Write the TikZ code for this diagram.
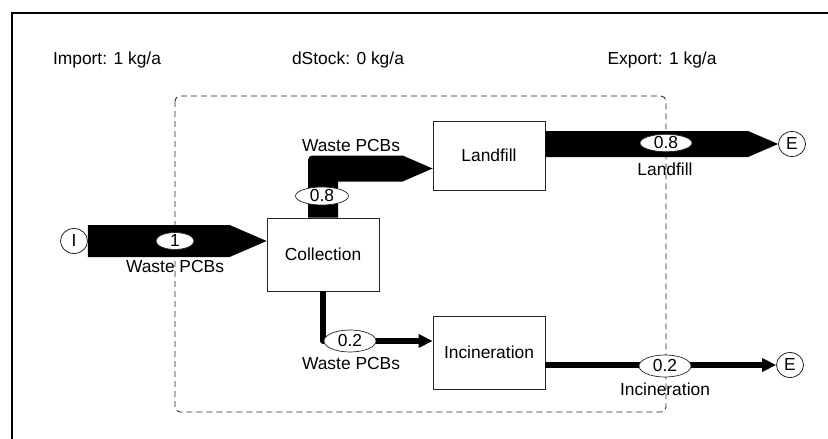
\documentclass[tikz,border=0pt]{standalone}
\usepackage{fontspec}
\setmainfont{Liberation Sans}
\usetikzlibrary{calc,shapes.geometric,arrows.meta}
\begin{document}
\begin{tikzpicture}[x={(1pt,0)},y={(0,-1pt)},
  every node/.style={font=\fontsize{17.4}{20}\selectfont},
  procbox/.style={draw=black!85,line width=0.8pt,fill=white,minimum width=112pt,inner sep=0pt},
  endpt/.style={ellipse,draw=black!85,line width=0.8pt,fill=white,minimum width=27pt,minimum height=25pt,inner sep=0pt},
  flowval/.style={ellipse,draw=black!85,line width=0.7pt,fill=white,minimum width=52pt,minimum height=20pt,inner sep=0pt},
  flowthin/.style={line width=5.5pt,line join=round,-{Triangle[length=14pt,width=13pt]}},
  sysbox/.style={draw=black!85,line width=0.9pt,dash pattern=on 6pt off 4pt,rounded corners=5pt}]
\useasboundingbox (0,0) rectangle (828,439);
% outer frame (left and top edges)
\draw[line width=2pt] (11.5,439) -- (11.5,12.5) -- (828,12.5);
% system boundary
\draw[sysbox] (175,96) rectangle (666,412);
% balance figures
\node (imp) at (107,60) {Import: 1 kg/a};
\node (dst) at (348,60) {dStock: 0 kg/a};
\node (exp) at (662,60) {Export: 1 kg/a};
% processes and end points
\node[procbox,minimum height=73pt] (coll) at (323,254.5) {Collection};
\node[procbox,minimum height=69pt] (landfill) at (489,155.5) {Landfill};
\node[procbox,minimum height=73pt] (inc) at (489,352.5) {Incineration};
\node[endpt] (I) at (74,241) {I};
\node[endpt] (E1) at (792,144) {E};
\node[endpt] (E2) at (790,365) {E};
% import flow
\fill ($(I.east)+(0,-16)$) -- ($(coll.west |- I.east)+(-37,-16)$) -- (coll.west |- I.east)
  -- ($(coll.west |- I.east)+(-37,16)$) -- ($(I.east)+(0,16)$) -- cycle;
% collection -> landfill
\coordinate (lfin) at ($(landfill.west)+(0,13)$);
\fill ($(coll.north)+(-15,0)$) -- ($(coll.north |- lfin)+(-15,-3)$)
  .. controls ($(coll.north |- lfin)+(-15,-13)$) .. ($(coll.north |- lfin)+(-5,-13)$)
  -- ($(lfin)+(-30,-13)$) -- (lfin) -- ($(lfin)+(-30,13)$)
  -- ($(coll.north |- lfin)+(15,13)$) -- ($(coll.north)+(15,0)$) -- cycle;
% landfill -> export
\coordinate (lfout) at ($(landfill.east)+(0,-11.5)$);
\fill ($(lfout)+(0,-13)$) -- ($(E1.west)+(-30,-13)$) -- (E1.west) -- ($(E1.west)+(-30,13)$)
  -- ($(lfout)+(0,13)$) -- cycle;
% collection -> incineration
\coordinate (incin) at ($(inc.west)+(0,-11.5)$);
\draw[flowthin] (coll.south) -- (coll.south |- incin) -- (incin);
% incineration -> export
\coordinate (incout) at ($(inc.east)+(0,12.5)$);
\draw[flowthin] (incout) -- (E2.west);
% flow values
\node[flowval,minimum width=38pt,minimum height=15pt] (v1) at (175,241) {1};
\node[flowval,minimum width=53pt,minimum height=18pt] (v2) at (322,196) {0.8};
\node[flowval,minimum height=16pt] (v3) at (666,143) {0.8};
\node[flowval,minimum height=22pt] (v4) at (350,341) {0.2};
\node[flowval,minimum height=22pt] (v5) at (665,366) {0.2};
% flow names
\node (n1) at (175,267) {Waste PCBs};
\node (n2) at (351,146) {Waste PCBs};
\node (n3) at (351,364) {Waste PCBs};
\node (n4) at (665,169) {Landfill};
\node (n5) at (665,389) {Incineration};
\end{tikzpicture}
\end{document}
